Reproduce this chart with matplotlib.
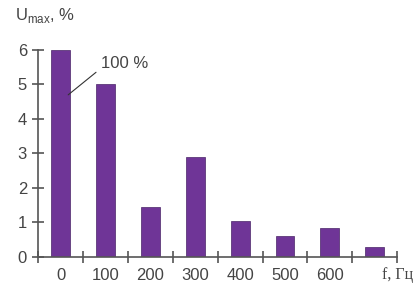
import matplotlib.pyplot as plt
import numpy as np

plt.rcParams['font.family'] = ['Liberation Sans', 'DejaVu Sans']
plt.rcParams['mathtext.fontset'] = 'custom'
plt.rcParams['mathtext.rm'] = 'Liberation Sans'

# spectrum of voltage harmonics
freq_labels = ['0', '100', '200', '300', '400', '500', '600', '']
u_max = [6.0, 5.0, 1.45, 2.9, 1.05, 0.6, 0.85, 0.3]

bar_color = '#6f3597'
axis_color = '#555555'
text_color = '#444444'

fig = plt.figure(figsize=(4.19, 2.89), dpi=100)
ax = fig.add_axes([0.091, 0.111, 0.857, 0.716])

x = np.arange(len(u_max))
ax.bar(x, u_max, width=0.42, color=bar_color, edgecolor='#4a2468', linewidth=0.5)

ax.set_xlim(-0.5, len(u_max) - 0.5)
ax.set_ylim(0, 6)

for s in ['top', 'right']:
    ax.spines[s].set_visible(False)
for s in ['left', 'bottom']:
    ax.spines[s].set_color(axis_color)
    ax.spines[s].set_linewidth(1.2)

# category labels at centers, tick marks at boundaries
ax.set_xticks(x)
ax.set_xticklabels(freq_labels)
ax.set_xticks(np.arange(len(u_max) + 1) - 0.5, minor=True)
ax.tick_params(axis='x', which='major', length=0, pad=8, labelsize=12, labelcolor=text_color)
ax.tick_params(axis='x', which='minor', direction='inout', length=8, width=1.2, color=axis_color)
ax.set_yticks(range(7))
ax.tick_params(axis='y', direction='inout', length=8, width=1.2, color=axis_color,
               labelsize=12, labelcolor=text_color, pad=4)

ax.text(len(u_max) - 0.5, -0.52, 'f, Гц', ha='center', va='center', fontsize=11.5,
        family='Liberation Serif', color=text_color)
fig.text(0.035, 0.945, r'U$_{\mathregular{max}}$, %', ha='left', va='center',
         fontsize=12, color=text_color)

ax.annotate('100 %', xy=(0.17, 4.7), xytext=(0.9, 5.6), fontsize=12, color=text_color,
            ha='left', va='center',
            arrowprops=dict(arrowstyle='-', color='#333333', lw=0.8, shrinkB=0, shrinkA=2,
                            relpos=(0, 0.2)))

fig.savefig('out.png', dpi=100)
